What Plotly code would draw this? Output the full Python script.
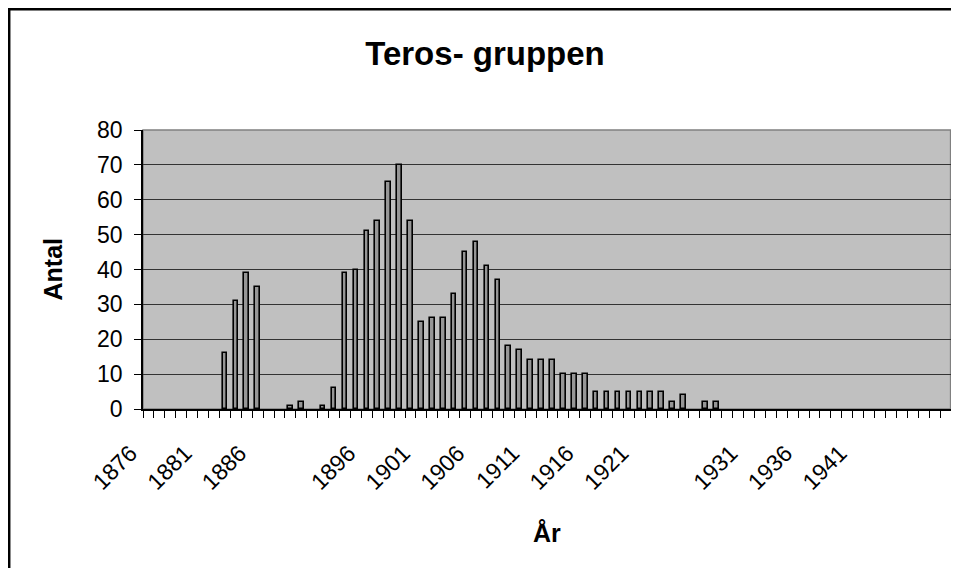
import plotly.graph_objects as go

# ---- data ----
years = list(range(1876, 1950))
antal = [0, 0, 0, 0, 0, 0, 0, 16, 31, 39, 35, 0, 0, 1, 2, 0, 1, 6, 39, 40,
         51, 54, 65, 70, 54, 25, 26, 26, 33, 45, 48, 41, 37, 18, 17, 14, 14, 14, 10, 10,
         10, 5, 5, 5, 5, 5, 5, 5, 2, 4, 0, 2, 2, 0, 0, 0, 0, 0, 0, 0,
         0, 0, 0, 0, 0, 0, 0, 0, 0, 0, 0, 0, 0, 0]
label_years = [1876, 1881, 1886, 1891, 1896, 1901, 1906, 1911, 1916, 1921, 1926, 1931, 1936, 1941, 1946]
label_text = ["1876", "1881", "1886", "", "1896", "1901", "1906", "1911", "1916", "1921", "", "1931", "1936", "1941", ""]
y_ticks = [0, 10, 20, 30, 40, 50, 60, 70, 80]

title_text = "Teros- gruppen"
x_title = "År"
y_title = "Antal"

FONT = "Liberation Sans, Arial, sans-serif"

# the page body has an 8px margin; keep the figure inside the 959x576 window
OFF = 8
W, H = 959 - 2 * OFF, 576 - 2 * OFF
L, T = 143 - OFF, 130 - OFF
R = 0
B = H - (409 - OFF)
pw, ph = W - L - R, H - T - B

def px2paper_x(px):
    return (px - OFF - L) / pw

def px2paper_y(py):
    return (H - B - (py - OFF)) / ph

fig = go.Figure()
fig.add_trace(go.Bar(
    x=years, y=[v if v else None for v in antal], width=0.42,
    marker=dict(color="#969696", line=dict(color="black", width=1.6)),
    showlegend=False, hoverinfo="x+y",
))

fig.update_layout(
    width=W, height=H, autosize=False,
    margin=dict(l=L, r=R, t=T, b=B, pad=0),
    paper_bgcolor="white", plot_bgcolor="#C0C0C0",
    font=dict(family=FONT, color="black", size=23),
    title=dict(text=title_text, x=(485 - OFF) / W, xanchor="center", xref="container",
               y=1 - (53 - OFF) / H, yanchor="middle", yref="container",
               font=dict(size=33, weight="bold", family=FONT)),
    bargap=0,
)

fig.update_xaxes(
    type="linear", range=[1875.5, 1949.5],
    tickmode="array", tickvals=label_years, ticktext=label_text,
    tickangle=-45, ticks="", showgrid=False, zeroline=False,
    showline=True, linecolor="black", linewidth=1.5,
    tickfont=dict(size=23, family=FONT), ticklabelstandoff=20, ticklabelshift=-18,
    minor=dict(tick0=1875.5, dtick=1, ticks="outside", ticklen=7, tickcolor="black",
               tickwidth=1, showgrid=False),
)
fig.update_yaxes(
    range=[0, 80], tickmode="array", tickvals=y_ticks,
    ticks="outside", ticklen=7, tickcolor="black", tickwidth=1,
    showgrid=True, gridcolor="#333333", gridwidth=1, zeroline=False,
    showline=True, linecolor="black", linewidth=1.5,
    tickfont=dict(size=23, family=FONT), ticklabelstandoff=7,
)

# plot-area border (grey)
fig.add_shape(type="rect", xref="paper", yref="paper", x0=0, x1=0.9995, y0=0, y1=1,
              line=dict(color="#808080", width=1.5), layer="below")
# chart-area border (black): only its top and left edges fall inside the window
fig.add_shape(type="line", xref="paper", yref="paper",
              x0=px2paper_x(8), x1=px2paper_x(959), y0=px2paper_y(9.2), y1=px2paper_y(9.2),
              line=dict(color="black", width=2.5))
fig.add_shape(type="line", xref="paper", yref="paper",
              x0=px2paper_x(9.2), x1=px2paper_x(9.2), y0=px2paper_y(8), y1=px2paper_y(576),
              line=dict(color="black", width=2.5))

fig.add_annotation(text=y_title, xref="paper", yref="paper", x=px2paper_x(52), y=0.5,
                   xanchor="center", yanchor="middle", textangle=-90, showarrow=False,
                   font=dict(size=25, weight="bold", family=FONT))
fig.add_annotation(text=x_title, xref="paper", yref="paper", x=0.5, y=px2paper_y(533),
                   xanchor="center", yanchor="middle", showarrow=False,
                   font=dict(size=25, weight="bold", family=FONT))

fig.write_html("out.html", config={"displayModeBar": False})
